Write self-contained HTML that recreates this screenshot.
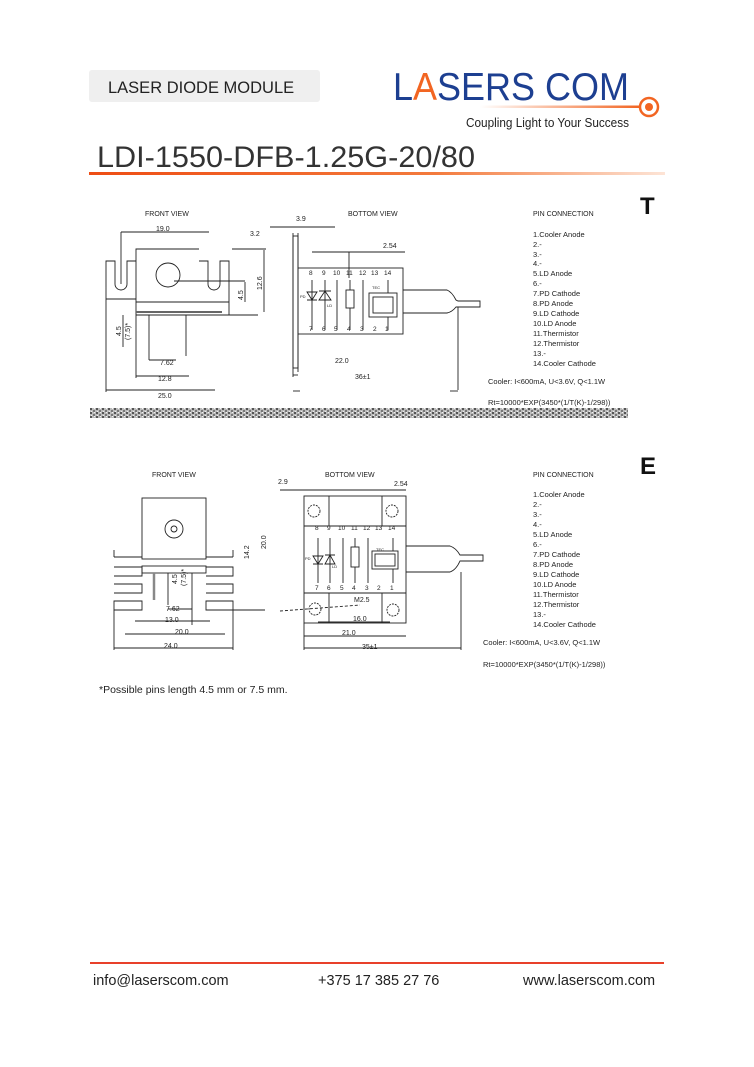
<!DOCTYPE html>
<html><head><meta charset="utf-8"><style>
html,body{margin:0;padding:0;background:#fff}
svg{display:block}
text{font-family:"Liberation Sans",sans-serif}
</style></head><body>
<svg width="754" height="1067" viewBox="0 0 754 1067" xmlns="http://www.w3.org/2000/svg">
<defs>
<linearGradient id="og" x1="0" x2="1"><stop offset="0" stop-color="#ee4d14"/><stop offset="0.6" stop-color="#f37a3c"/><stop offset="1" stop-color="#fde4d6"/></linearGradient>
<linearGradient id="lg" x1="0" x2="1"><stop offset="0" stop-color="#fff"/><stop offset="1" stop-color="#f26522"/></linearGradient>
<pattern id="nz" width="6" height="4" patternUnits="userSpaceOnUse"><rect width="6" height="4" fill="#bbb"/><rect x="0" y="0" width="2" height="2" fill="#555"/><rect x="3" y="2" width="2" height="2" fill="#777"/><rect x="4" y="0" width="1" height="1" fill="#f4f4f4"/><rect x="1" y="3" width="1" height="1" fill="#eee"/></pattern>
</defs>
<!-- header -->
<rect x="89" y="70" width="231" height="32" rx="3" fill="#efefef"/>
<text x="108" y="93" font-size="16.5" fill="#222">LASER DIODE MODULE</text>
<text x="393" y="100" font-size="39" fill="#1d3f91" textLength="236" lengthAdjust="spacingAndGlyphs">L<tspan fill="#f26522">A</tspan>SERS COM</text>
<rect x="480" y="105.5" width="160" height="2.5" fill="url(#lg)"/>
<circle cx="649" cy="107" r="9" fill="none" stroke="#f26522" stroke-width="2.5"/>
<circle cx="649" cy="107" r="4" fill="#f26522"/>
<text x="466" y="127" font-size="12.5" fill="#222" textLength="163" lengthAdjust="spacingAndGlyphs">Coupling Light to Your Success</text>
<text x="97" y="167" font-size="30" fill="#333" textLength="378" lengthAdjust="spacingAndGlyphs">LDI-1550-DFB-1.25G-20/80</text>
<rect x="89" y="172" width="576" height="3" fill="url(#og)"/>

<g font-size="7" fill="#222" stroke="none">
<!-- ===== T ===== -->
<text x="640" y="214" font-size="24" font-weight="bold" fill="#111">T</text>
<text x="145" y="216">FRONT VIEW</text>
<text x="348" y="216">BOTTOM VIEW</text>
<text x="533" y="216">PIN CONNECTION</text>
<g font-size="7.5">
<text x="533" y="237">1.Cooler Anode</text><text x="533" y="247">2.-</text><text x="533" y="257">3.-</text><text x="533" y="266">4.-</text><text x="533" y="276">5.LD Anode</text><text x="533" y="286">6.-</text><text x="533" y="296">7.PD Cathode</text><text x="533" y="306">8.PD Anode</text><text x="533" y="316">9.LD Cathode</text><text x="533" y="326">10.LD Anode</text><text x="533" y="336">11.Thermistor</text><text x="533" y="346">12.Thermistor</text><text x="533" y="356">13.-</text><text x="533" y="366">14.Cooler Cathode</text>
<text x="488" y="384">Cooler: I&lt;600mA, U&lt;3.6V, Q&lt;1.1W</text>
<text x="488" y="405">Rt=10000*EXP(3450*(1/T(K)-1/298))</text>
</g>
<rect x="90" y="408" width="538" height="10" fill="url(#nz)"/>
<g fill="none" stroke="#222" stroke-width="0.9">
<!-- front view T -->
<path d="M106 299V261H115V284A6 6 0 0 0 127 284V261H136M136 299V249H199M136 315V299H106"/>
<path d="M199 261H208V284A6 6 0 0 0 220 284V261H229V302H136M229 302V315H258M136 315H258"/>
<line x1="136" y1="312" x2="222" y2="312" stroke-width="2" stroke="#666"/>
<circle cx="168" cy="275" r="12"/>
<line x1="149" y1="315" x2="149" y2="356"/><line x1="186" y1="315" x2="186" y2="356"/>
<line x1="121" y1="232" x2="121" y2="284"/><line x1="121" y1="232" x2="209" y2="232"/>
<line x1="174" y1="281" x2="245" y2="281"/><line x1="232" y1="249" x2="266" y2="249"/>
<line x1="264" y1="250" x2="264" y2="312"/><line x1="245" y1="282" x2="245" y2="302"/>
<line x1="106" y1="299" x2="106" y2="392"/><line x1="136" y1="315" x2="136" y2="378"/>
<line x1="149" y1="356" x2="149" y2="360"/><line x1="149" y1="360" x2="176" y2="360"/>
<line x1="136" y1="376" x2="189" y2="376"/><line x1="106" y1="390" x2="215" y2="390"/>
<line x1="123" y1="315" x2="123" y2="347"/>
<!-- bottom view T -->
<rect x="293" y="236" width="5" height="132"/>
<rect x="298" y="268" width="105" height="66"/>
<path d="M403 290H447Q452 292 456 300L458 301H480V307H458L456 307Q452 312 447 313H403"/>
<line x1="298" y1="233" x2="298" y2="372"/><line x1="293" y1="233" x2="293" y2="377"/>
<line x1="270" y1="227" x2="335" y2="227"/>
<line x1="312" y1="252" x2="405" y2="252"/><line x1="349" y1="252" x2="349" y2="278"/>
<line x1="458" y1="307" x2="458" y2="390"/>
<line x1="293" y1="375" x2="298" y2="375"/><line x1="293" y1="391" x2="300" y2="391"/><line x1="450" y1="391" x2="458" y2="391"/>
<path d="M312 280V330M325 280V330M337 280V330M350 280V330M363 280V330M388 280V330"/>
<rect x="346" y="290" width="8" height="18" fill="#fff"/>
<rect x="369" y="293" width="28" height="24" fill="#fff"/><rect x="373" y="297" width="20" height="16"/>
<path d="M307 292H317L312 300ZM307 300H317M319 300H331L325 291ZM319 291H331"/>
</g>
<g font-size="6.5">
<text x="309" y="275">8</text><text x="322" y="275">9</text><text x="333" y="275">10</text><text x="346" y="275">11</text><text x="359" y="275">12</text><text x="371" y="275">13</text><text x="384" y="275">14</text>
<text x="309" y="331">7</text><text x="322" y="331">6</text><text x="334" y="331">5</text><text x="347" y="331">4</text><text x="360" y="331">3</text><text x="373" y="331">2</text><text x="385" y="331">1</text>
<text x="372" y="289" font-size="4">TEC</text><text x="300" y="298" font-size="4">PD</text><text x="327" y="307" font-size="4">LD</text>
</g>
<text x="156" y="231">19.0</text><text x="250" y="236">3.2</text><text x="296" y="221">3.9</text><text x="383" y="248">2.54</text>
<text x="160" y="365">7.62</text><text x="158" y="381">12.8</text><text x="158" y="398">25.0</text>
<text x="335" y="363">22.0</text><text x="355" y="379">36±1</text>
<text transform="translate(262,290) rotate(-90)">12.6</text>
<text transform="translate(243,300) rotate(-90)">4.5</text>
<text transform="translate(121,336) rotate(-90)">4.5</text><text transform="translate(130,340) rotate(-90)">(7.5)*</text>

<!-- ===== E ===== -->
<text x="640" y="474" font-size="24" font-weight="bold" fill="#111">E</text>
<text x="152" y="477">FRONT VIEW</text>
<text x="325" y="477">BOTTOM VIEW</text>
<text x="533" y="477">PIN CONNECTION</text>
<g font-size="7.5">
<text x="533" y="497">1.Cooler Anode</text><text x="533" y="507">2.-</text><text x="533" y="517">3.-</text><text x="533" y="527">4.-</text><text x="533" y="537">5.LD Anode</text><text x="533" y="547">6.-</text><text x="533" y="557">7.PD Cathode</text><text x="533" y="567">8.PD Anode</text><text x="533" y="577">9.LD Cathode</text><text x="533" y="587">10.LD Anode</text><text x="533" y="597">11.Thermistor</text><text x="533" y="607">12.Thermistor</text><text x="533" y="617">13.-</text><text x="533" y="627">14.Cooler Cathode</text>
<text x="483" y="645">Cooler: I&lt;600mA, U&lt;3.6V, Q&lt;1.1W</text>
<text x="483" y="667">Rt=10000*EXP(3450*(1/T(K)-1/298))</text>
</g>
<g fill="none" stroke="#222" stroke-width="0.9">
<rect x="142" y="498" width="64" height="61"/>
<circle cx="174" cy="529" r="9"/><circle cx="174" cy="529" r="3"/>
<rect x="142" y="566" width="64" height="7"/>
<path d="M114 557H142M114 550V557M114 567H142V576H114M114 584H142V593H114M114 601H142V610H114Z"/>
<path d="M206 557H233M233 550V557M206 567H233V576H206M206 584H233V593H206M206 601H233V610H206Z"/>
<line x1="154" y1="573" x2="154" y2="600" stroke-width="2.5" stroke="#888"/>
<line x1="192" y1="573" x2="192" y2="625"/><line x1="168" y1="573" x2="168" y2="605"/>
<line x1="114" y1="610" x2="114" y2="650"/><line x1="233" y1="610" x2="233" y2="650"/>
<line x1="114" y1="648" x2="233" y2="648"/><line x1="125" y1="634" x2="225" y2="634"/><line x1="135" y1="621" x2="210" y2="621"/>
<line x1="168" y1="609" x2="192" y2="609"/>
<line x1="233" y1="610" x2="265" y2="610"/>
<!-- bottom view E -->
<rect x="304" y="496" width="102" height="127"/>
<line x1="304" y1="526" x2="406" y2="526"/><line x1="304" y1="593" x2="406" y2="593"/>
<line x1="329" y1="496" x2="329" y2="526"/><line x1="382" y1="496" x2="382" y2="526"/>
<line x1="329" y1="593" x2="329" y2="623"/><line x1="382" y1="593" x2="382" y2="623"/>
<circle cx="314" cy="511" r="6" stroke-dasharray="2 1"/><circle cx="392" cy="511" r="6" stroke-dasharray="2 1"/>
<circle cx="315" cy="609" r="6" stroke-dasharray="2 1"/><circle cx="393" cy="610" r="6" stroke-dasharray="2 1"/>
<path d="M406 546H450Q456 548 460 555H483V561H460Q456 570 450 572H406"/>
<path d="M318 538V583M330 538V583M343 538V583M355 538V583M368 538V583M393 538V583"/>
<rect x="351" y="547" width="8" height="20" fill="#fff"/>
<rect x="372" y="551" width="26" height="18" fill="#fff"/><rect x="375" y="554" width="20" height="12"/>
<path d="M313 556H323L318 564ZM313 564H323M325 564H335L330 555ZM325 555H335"/>
<line x1="280" y1="490" x2="406" y2="490"/>
<line x1="280" y1="611" x2="360" y2="605" stroke-dasharray="3 2"/>
<line x1="318" y1="622" x2="390" y2="622"/><line x1="304" y1="636" x2="406" y2="636"/>
<line x1="304" y1="623" x2="304" y2="650"/><line x1="461" y1="572" x2="461" y2="650"/><line x1="304" y1="648" x2="461" y2="648"/>
</g>
<g font-size="6.5">
<text x="315" y="530">8</text><text x="327" y="530">9</text><text x="338" y="530">10</text><text x="351" y="530">11</text><text x="363" y="530">12</text><text x="375" y="530">13</text><text x="388" y="530">14</text>
<text x="315" y="590">7</text><text x="327" y="590">6</text><text x="340" y="590">5</text><text x="352" y="590">4</text><text x="365" y="590">3</text><text x="377" y="590">2</text><text x="390" y="590">1</text>
<text x="376" y="551" font-size="4">TEC</text><text x="305" y="560" font-size="4">PD</text><text x="332" y="568" font-size="4">LD</text>
</g>
<text x="278" y="484">2.9</text><text x="394" y="486">2.54</text><text x="354" y="602">M2.5</text>
<text x="166" y="611">7.62</text><text x="165" y="622">13.0</text><text x="175" y="634">20.0</text><text x="164" y="648">24.0</text>
<text x="353" y="621">16.0</text><text x="342" y="635">21.0</text><text x="362" y="649">35±1</text>
<text transform="translate(249,559) rotate(-90)">14.2</text>
<text transform="translate(266,549) rotate(-90)">20.0</text>
<text transform="translate(177,584) rotate(-90)">4.5</text><text transform="translate(186,586) rotate(-90)">(7.5)*</text>
</g>
<text x="99" y="693" font-size="10.5" fill="#222">*Possible pins length 4.5 mm or 7.5 mm.</text>

<!-- footer -->
<rect x="90" y="962" width="574" height="2" fill="#e8402a"/>
<g font-size="14.5" fill="#222">
<text x="93" y="985">info@laserscom.com</text>
<text x="318" y="985">+375 17 385 27 76</text>
<text x="523" y="985">www.laserscom.com</text>
</g>
</svg>
</body></html>
